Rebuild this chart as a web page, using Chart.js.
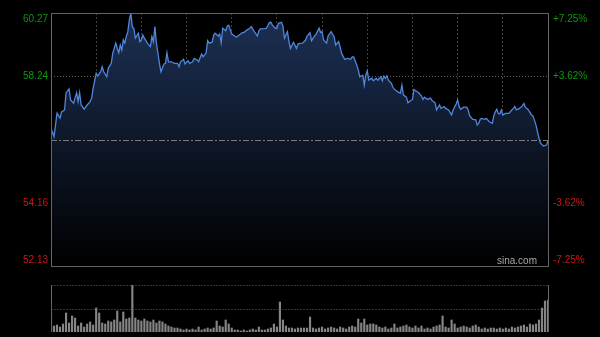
<!DOCTYPE html>
<html lang="zh">
<head>
<meta charset="UTF-8">
<title>分时走势</title>
<script src="https://cdn.jsdelivr.net/npm/chart.js"></script>
<style>
    html, body { margin: 0; padding: 0; background: #000; }
    .wrap { position: relative; width: 600px; height: 337px; }
    #priceChart { position: absolute; left: 0; top: 0; }
    #volChart { position: absolute; left: 0; top: 275px; }
</style>
</head>
<body>
<div class="wrap">
    <canvas id="priceChart" width="600" height="275"></canvas>
    <canvas id="volChart" width="600" height="62"></canvas>
</div>
<script>
// minutes since open and the price at that minute
const minutes = [
    0, 2, 4, 6, 7, 9, 10, 12, 13, 15,
    16, 17, 18, 19, 20, 22, 24, 26, 27, 28,
    30, 31, 33, 34, 35, 37, 38, 40, 41, 43,
    44, 45, 46, 47, 48, 49, 50, 51, 52, 53,
    54, 55, 56, 58, 59, 60, 61, 62, 64, 66,
    67, 68, 69, 70, 72, 73, 75, 76, 77, 78,
    80, 82, 84, 85, 86, 88, 89, 91, 92, 94,
    95, 97, 98, 100, 101, 103, 104, 105, 107, 108,
    109, 111, 112, 113, 114, 116, 117, 118, 120, 121,
    123, 125, 127, 128, 130, 132, 133, 135, 137, 138,
    139, 142, 143, 145, 146, 147, 149, 150, 151, 153,
    154, 155, 157, 158, 159, 161, 163, 164, 165, 167,
    169, 170, 172, 173, 175, 176, 178, 179, 180, 181,
    183, 184, 186, 188, 189, 191, 192, 193, 195, 197,
    199, 200, 201, 203, 204, 205, 207, 208, 209, 210,
    211, 213, 214, 216, 217, 219, 220, 221, 222, 223,
    224, 226, 227, 228, 230, 232, 233, 234, 236, 237,
    238, 240, 241, 242, 244, 246, 247, 248, 250, 252,
    253, 255, 256, 258, 259, 261, 262, 264, 266, 267,
    269, 270, 271, 272, 274, 276, 277, 278, 280, 282,
    283, 284, 285, 286, 288, 289, 291, 293, 294, 295,
    296, 297, 298, 299, 300, 302, 304, 306, 307, 308,
    309, 311, 313, 314, 315, 317, 319, 320, 322, 323,
    324, 325, 327, 329, 330
];
const prices = [
    56.56, 56.29, 57.05, 56.89, 57.09, 57.15, 57.70, 57.83, 57.47, 57.37,
    57.54, 57.70, 57.42, 57.71, 57.31, 57.18, 57.31, 57.42, 57.53, 57.85,
    58.33, 58.24, 58.38, 58.54, 58.38, 58.22, 58.49, 58.65, 58.97, 59.30,
    59.13, 58.99, 59.24, 59.08, 59.40, 59.30, 59.51, 59.67, 60.04, 60.26,
    59.83, 59.78, 59.46, 59.62, 59.35, 59.40, 59.56, 59.46, 59.30, 59.19,
    59.51, 59.35, 59.83, 59.30, 58.65, 58.38, 58.63, 58.65, 58.99, 58.70,
    58.70, 58.65, 58.65, 58.54, 58.70, 58.78, 58.63, 58.74, 58.65, 58.70,
    58.81, 58.76, 58.70, 58.95, 58.86, 58.99, 59.38, 59.30, 59.33, 59.56,
    59.62, 59.53, 59.59, 59.31, 59.78, 59.70, 59.85, 59.88, 59.59, 59.56,
    59.49, 59.56, 59.64, 59.64, 59.72, 59.78, 59.83, 59.67, 59.53, 59.70,
    59.76, 59.77, 59.78, 59.96, 59.97, 59.88, 59.78, 59.78, 59.94, 59.97,
    59.85, 59.46, 59.67, 59.35, 59.13, 59.33, 59.13, 59.27, 59.29, 59.30,
    59.40, 59.53, 59.64, 59.38, 59.53, 59.59, 59.78, 59.64, 59.67, 59.40,
    59.30, 59.53, 59.67, 59.51, 59.24, 59.35, 59.17, 58.97, 58.78, 58.81,
    58.78, 58.86, 58.86, 58.60, 58.44, 58.22, 58.27, 57.95, 58.27, 58.41,
    58.11, 58.17, 58.09, 58.17, 58.11, 58.22, 58.09, 58.24, 58.17, 58.25,
    58.11, 58.01, 57.88, 57.82, 57.74, 57.69, 57.95, 57.63, 57.56, 57.38,
    57.42, 57.49, 57.81, 57.77, 57.71, 57.60, 57.49, 57.56, 57.49, 57.53,
    57.45, 57.38, 57.15, 57.31, 57.20, 57.26, 57.20, 57.15, 56.99, 57.15,
    57.34, 57.47, 57.26, 57.17, 57.24, 57.24, 57.15, 56.96, 56.85, 56.83,
    56.67, 56.72, 56.85, 56.88, 56.85, 56.88, 56.77, 56.72, 56.96, 57.09,
    57.17, 57.04, 57.02, 57.15, 56.99, 57.04, 57.04, 57.15, 57.20, 57.26,
    57.15, 57.20, 57.28, 57.36, 57.24, 57.15, 56.99, 56.96, 56.67, 56.45,
    56.24, 56.08, 55.99, 56.02, 56.16
];
// volume, one bar every 2 minutes
const volStep = 2;
const volumes = [
    18, 6, 7, 5, 8, 19, 9, 16, 14, 6,
    9, 5, 8, 10, 7, 24, 19, 9, 8, 11,
    10, 12, 21, 10, 20, 13, 14, 47, 14, 12,
    11, 13, 11, 10, 12, 9, 11, 10, 8, 6,
    5, 4, 4, 3, 2, 3, 2, 3, 2, 5,
    2, 3, 4, 3, 4, 11, 6, 5, 12, 8,
    4, 2, 2, 1, 2, 1, 2, 3, 2, 5,
    2, 2, 3, 4, 8, 5, 30, 12, 6, 4,
    4, 3, 4, 4, 4, 4, 15, 4, 3, 4,
    5, 3, 4, 5, 4, 3, 5, 4, 3, 5,
    6, 5, 13, 9, 13, 7, 8, 8, 7, 5,
    4, 5, 3, 4, 8, 4, 5, 6, 7, 5,
    4, 6, 4, 6, 3, 4, 3, 5, 6, 7,
    16, 5, 4, 12, 8, 4, 5, 6, 5, 4,
    6, 7, 5, 3, 4, 3, 4, 4, 3, 4,
    3, 4, 3, 5, 4, 5, 6, 7, 5, 8,
    7, 8, 12, 24, 31, 32
];
const totalMinutes = 330;
const prevClose = 56.20;
const priceTicks = [52.13, 54.16, 56.20, 58.24, 60.27];
const priceLabels = ['52.13', '54.16', '', '58.24', '60.27'];
const pctLabels = ['-7.25%', '-3.62%', '', '+3.62%', '+7.25%'];

const UP = '#0b9a0b';
const DOWN = '#d01414';
const FRAME = '#646464';
const CLEAR = 'rgba(0,0,0,0)';

// frame, prev close line, axis labels and watermark
const priceFrame = {
    id: 'priceFrame',
    afterDatasetsDraw(chart) {
        const ctx = chart.ctx;
        const a = chart.chartArea;
        const ys = chart.scales.y;
        const y = Math.round(ys.getPixelForValue(prevClose)) + 0.5;
        ctx.save();
        ctx.strokeStyle = '#7a7a7a';
        ctx.lineWidth = 1;
        ctx.setLineDash([6, 2, 2, 2]);
        ctx.beginPath();
        ctx.moveTo(a.left, y);
        ctx.lineTo(a.right, y);
        ctx.stroke();
        ctx.setLineDash([]);
        ctx.strokeStyle = FRAME;
        ctx.strokeRect(Math.round(a.left) + 0.5, Math.round(a.top) + 0.5,
            Math.round(a.right - a.left), Math.round(a.bottom - a.top));

        // labels, kept inside the plot's height at both ends
        ctx.font = '10px Arial';
        ctx.textBaseline = 'middle';
        priceTicks.forEach((v, i) => {
            const py = Math.min(Math.max(ys.getPixelForValue(v), a.top + 6), a.bottom - 6);
            ctx.fillStyle = v > prevClose ? UP : DOWN;
            ctx.textAlign = 'right';
            ctx.fillText(priceLabels[i], a.left - 3, py);
            ctx.textAlign = 'left';
            ctx.fillText(pctLabels[i], a.right + 5, py);
        });

        ctx.fillStyle = '#a8a8a8';
        ctx.textAlign = 'right';
        ctx.fillText('sina.com', a.right - 11, a.bottom - 5);
        ctx.restore();
    }
};

const volFrame = {
    id: 'volFrame',
    afterDatasetsDraw(chart) {
        const ctx = chart.ctx;
        const a = chart.chartArea;
        const mid = Math.round(chart.scales.y.getPixelForValue(23.5)) + 0.5;
        const l = Math.round(a.left) + 0.5, r = Math.round(a.right) + 0.5;
        ctx.save();
        ctx.lineWidth = 1;
        ctx.strokeStyle = FRAME;
        ctx.setLineDash([1, 2]);
        ctx.beginPath();
        ctx.moveTo(l, Math.round(a.top) + 0.5);
        ctx.lineTo(r, Math.round(a.top) + 0.5);
        ctx.moveTo(l, mid);
        ctx.lineTo(r, mid);
        ctx.stroke();
        ctx.setLineDash([]);
        ctx.beginPath();
        ctx.moveTo(l, a.top);
        ctx.lineTo(l, a.bottom);
        ctx.moveTo(r, a.top);
        ctx.lineTo(r, a.bottom);
        ctx.stroke();
        ctx.restore();
    }
};

new Chart(document.getElementById('priceChart'), {
    type: 'line',
    data: {
        datasets: [{
            data: minutes.map((m, i) => ({ x: m, y: prices[i] })),
            borderColor: '#4f86de',
            borderWidth: 1.3,
            pointRadius: 0,
            tension: 0,
            fill: 'start',
            backgroundColor: (c) => {
                const a = c.chart.chartArea;
                if (!a) return CLEAR;
                const g = c.chart.ctx.createLinearGradient(0, a.top, 0, a.bottom);
                g.addColorStop(0, 'rgba(29,48,84,1)');
                g.addColorStop(1, 'rgba(0,0,0,1)');
                return g;
            }
        }]
    },
    options: {
        responsive: false,
        animation: false,
        layout: { padding: { top: 13, bottom: 9, left: 0, right: 0 } },
        plugins: { legend: { display: false }, tooltip: { enabled: false } },
        scales: {
            x: {
                type: 'linear', min: 0, max: totalMinutes,
                ticks: { display: false, stepSize: 30 },
                grid: {
                    drawTicks: false,
                    color: c => (c.tick.value === 0 || c.tick.value === totalMinutes) ? CLEAR : '#3e3e3e'
                },
                border: { display: false, dash: [2, 2] },
                afterFit: s => { s.height = 0; }
            },
            y: {
                position: 'left', min: 52.13, max: 60.27,
                afterBuildTicks: s => { s.ticks = priceTicks.map(v => ({ value: v })); },
                ticks: { display: false },
                grid: {
                    drawTicks: false,
                    color: c => (c.tick.value === 54.16 || c.tick.value === 58.24) ? '#626262' : CLEAR
                },
                border: { display: false, dash: [1, 2] },
                afterFit: s => { s.width = 51; }
            },
            y2: {
                position: 'right', min: 52.13, max: 60.27,
                ticks: { display: false },
                grid: { display: false, drawTicks: false },
                border: { display: false },
                afterFit: s => { s.width = 52; }
            }
        }
    },
    plugins: [priceFrame]
});

new Chart(document.getElementById('volChart'), {
    type: 'bar',
    data: {
        datasets: [{
            data: volumes.map((v, i) => ({ x: i * volStep, y: v })),
            backgroundColor: '#858585',
            borderWidth: 0,
            barThickness: 1.5
        }]
    },
    options: {
        responsive: false,
        animation: false,
        layout: { padding: { top: 10, bottom: 5, left: 51, right: 52 } },
        plugins: { legend: { display: false }, tooltip: { enabled: false } },
        scales: {
            x: { type: 'linear', min: 0, max: totalMinutes, offset: false, display: false },
            y: { min: 0, max: 47, display: false }
        }
    },
    plugins: [volFrame]
});
</script>
</body>
</html>
